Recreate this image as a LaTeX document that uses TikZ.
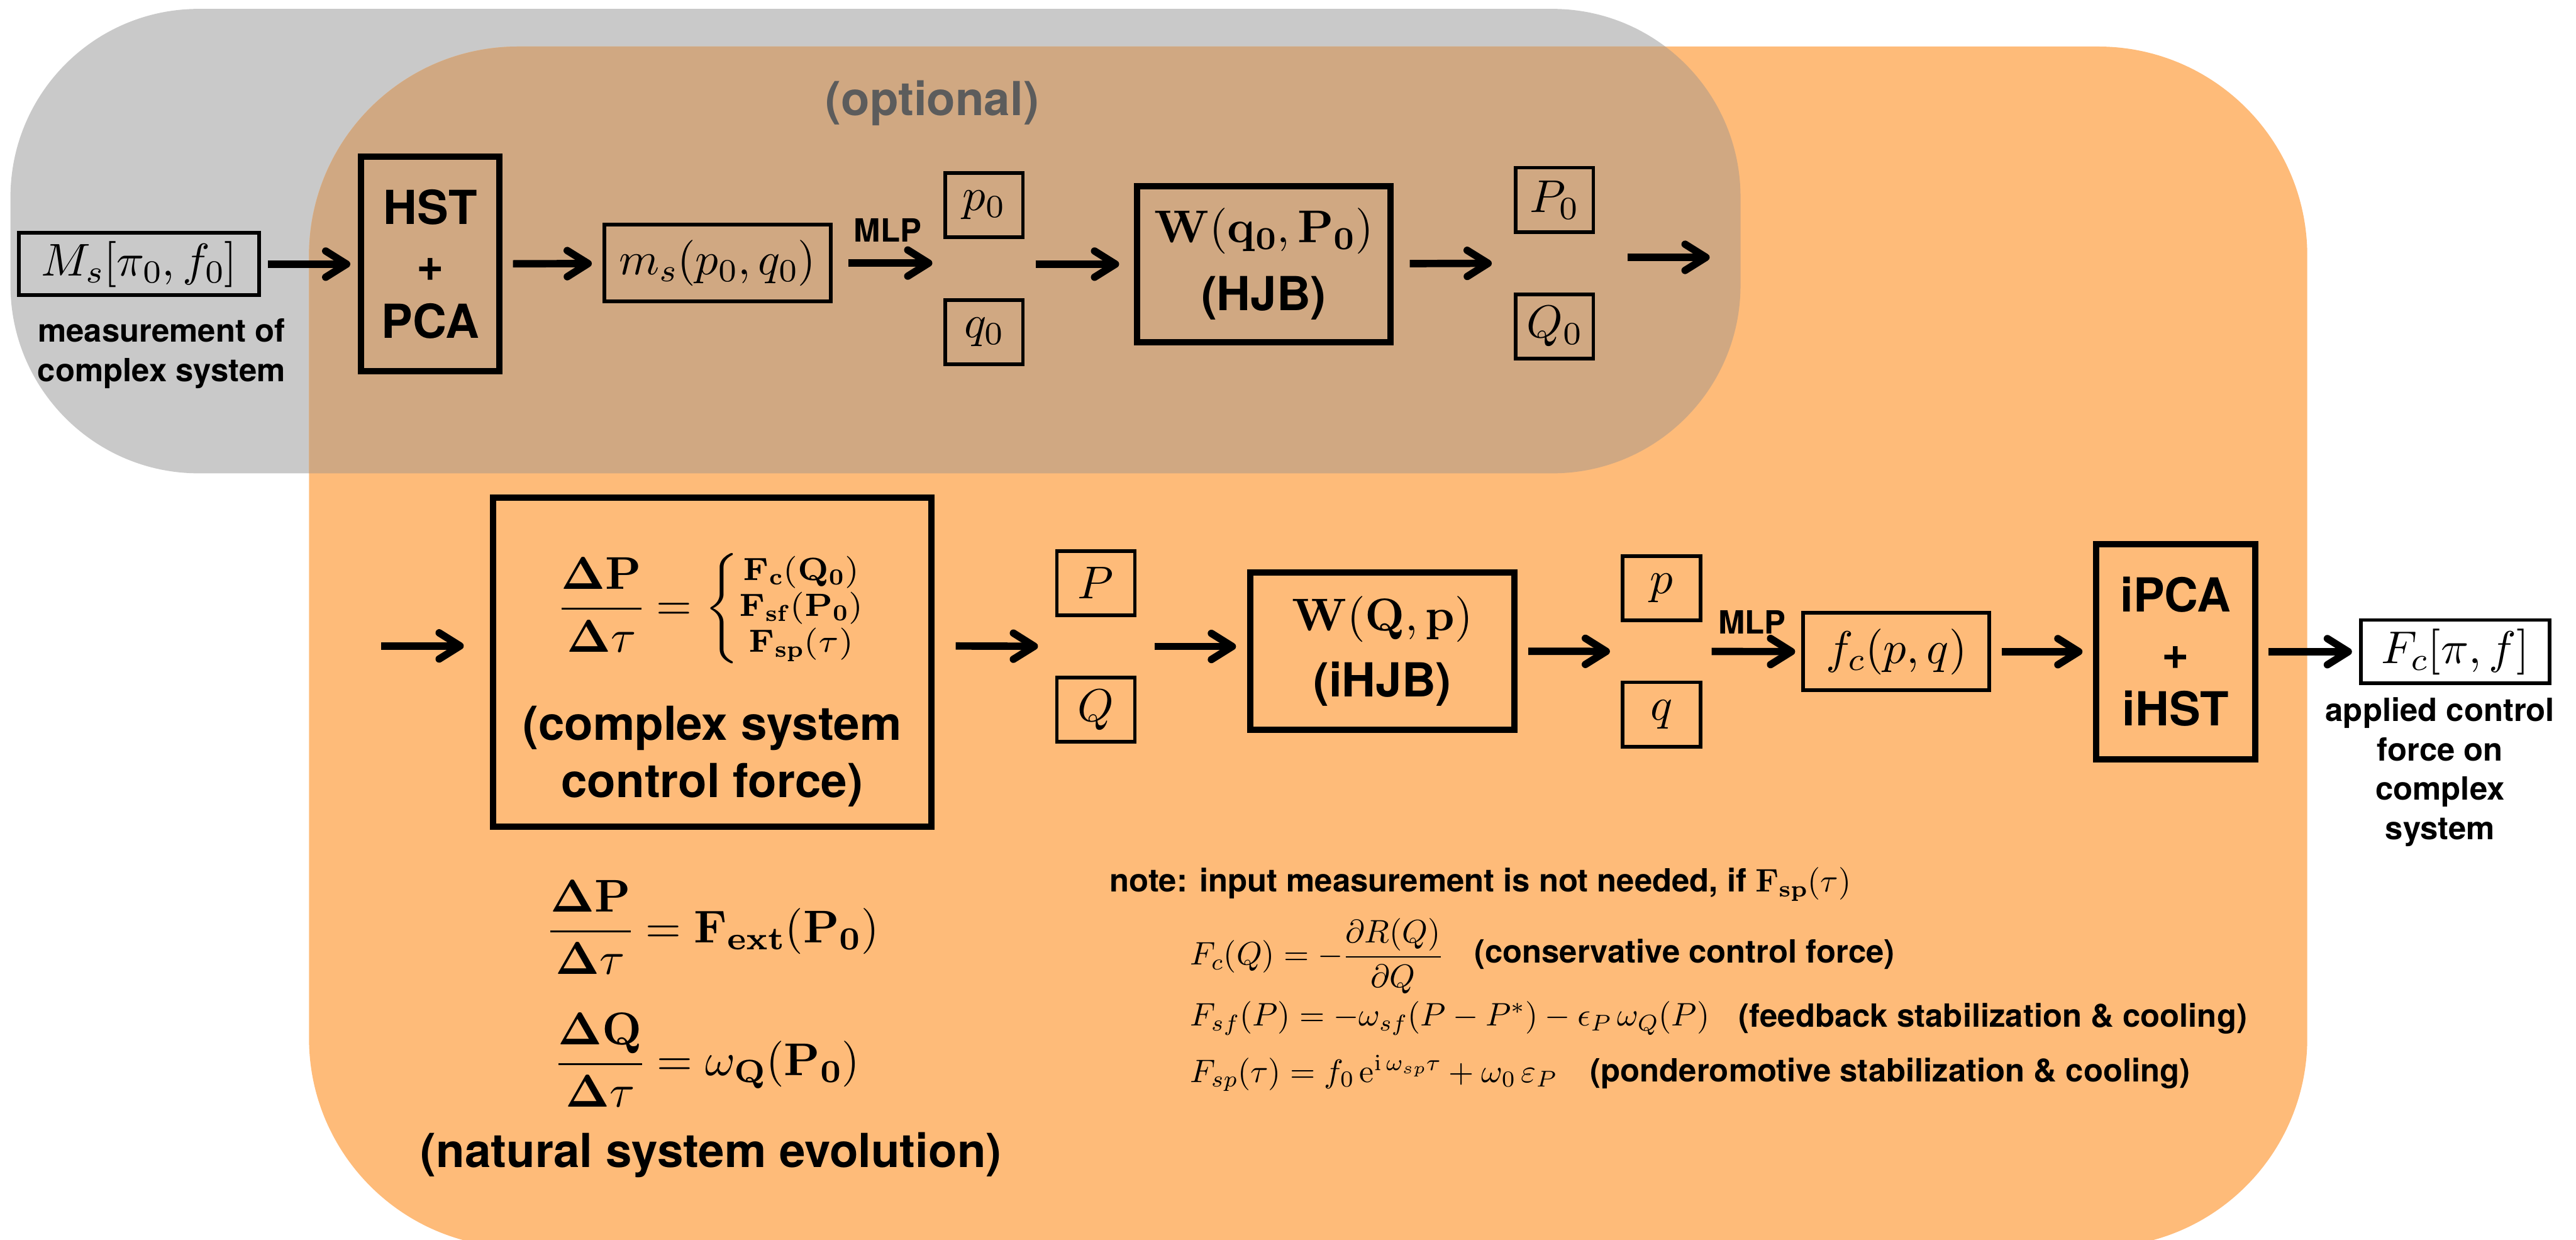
\documentclass[tikz,border=0pt]{standalone}
\usepackage{amsmath,amssymb}
\usepackage[no-math]{fontspec}
\setsansfont{TeX Gyre Heros}
\usepackage{xcolor}
\usetikzlibrary{arrows.meta,positioning,fit}

% math in the look of a scaled-up 10pt formula
\DeclareFontShape{OT1}{cmr}{m}{n}{<-12>cmr5 <12-17.6>cmr7 <17.6->cmr10}{}
\DeclareFontShape{OT1}{cmr}{bx}{n}{<-12>cmbx5 <12-17.6>cmbx7 <17.6->cmbx10}{}
\DeclareFontShape{OML}{cmm}{m}{it}{<-12>cmmi5 <12-17.6>cmmi7 <17.6->cmmi10}{}
\DeclareFontShape{OMS}{cmsy}{m}{n}{<-12>cmsy5 <12-17.6>cmsy7 <17.6->cmsy10}{}
\DeclareFontShape{OMX}{cmex}{m}{n}{<->cmex10}{}

\definecolor{orangebg}{RGB}{254,187,121}
\definecolor{graybg}{RGB}{201,201,201}
\definecolor{overlapbg}{RGB}{208,168,130}
\definecolor{optgray}{RGB}{92,92,92}

\newcommand{\boxmath}{\fontsize{25}{30}\selectfont}
\newcommand{\boxsans}{\sffamily\bfseries\fontsize{25.5}{31}\selectfont}
\newcommand{\capsans}{\sffamily\bfseries\fontsize{17.4}{21.5}\selectfont}
\newcommand{\notemath}{\fontsize{17.7}{21}\selectfont}

\begin{document}
\begin{tikzpicture}[
    varbox/.style={rectangle, draw, line width=2pt, minimum width=1.49cm, minimum height=1.23cm, inner sep=0pt, font=\boxmath},
    databox/.style={rectangle, draw, line width=2pt, inner sep=0pt, font=\boxmath},
    opbox/.style={rectangle, draw, line width=3.4pt, inner sep=0pt, align=center, font=\boxsans},
    caption/.style={inner sep=0pt, align=center, font=\capsans},
    arrow/.style={-{Straight Barb[length=4mm, width=5mm, round]}, line width=4pt, shorten <=2mm, shorten >=2mm}
]
\useasboundingbox (0,0) rectangle (49.27,-23.70);
\clip (0,0) rectangle (49.27,-23.70);

% background regions
\fill[graybg, rounded corners=3.6cm] (0.20,-0.17) rectangle (33.29,-9.05);
\fill[orangebg, rounded corners=4cm] (5.91,-0.89) rectangle (44.13,-23.85);
\begin{scope}
  \clip[rounded corners=4cm] (5.91,-0.89) rectangle (44.13,-23.85);
  \fill[overlapbg, rounded corners=3.6cm] (0.20,-0.17) rectangle (33.29,-9.05);
\end{scope}
\node[font=\boxsans, text=optgray] (optional) at (17.83,-1.97) {(optional)};

% forward chain (measurement -> HJB)
\node[databox, minimum width=4.59cm, minimum height=1.19cm] (meas) at (2.66,-5.05) {$M_s[\pi_0,f_0]$};
\node[caption] (measlabel) at (3.09,-6.76) {measurement of\\complex system};
\node[opbox, minimum width=2.64cm, minimum height=4.10cm] (hst) at (8.23,-5.05) {HST\\+\\PCA};
\node[databox, minimum width=4.33cm, minimum height=1.47cm] (msig) at (13.72,-5.03) {$m_s(p_0,q_0)$};
\node[caption] (mlptop) at (16.98,-4.40) {MLP};
\node[varbox] (p0) at (18.82,-3.92) {$p_0$};
\node[varbox, below=1.13cm of p0] (q0) {$q_0$};
\node[fit=(p0)(q0), inner sep=0pt] (pq0) {};
\node[opbox, minimum width=4.85cm, minimum height=2.99cm] (hjb) at (24.17,-5.05) {{\boxmath$\mathbf{W}(\mathbf{q_0},\mathbf{P_0})$}\\[6pt](HJB)};
\node[varbox] (P0) at (29.73,-3.82) {$P_0$};
\node[varbox, below=1.12cm of P0] (Q0) {$Q_0$};
\node[fit=(P0)(Q0), inner sep=0pt] (PQ0) {};
\coordinate (topout) at (32.70,-4.92);

\draw[arrow, shorten <=1.3mm, shorten >=1.5mm] (meas) -- (hst);
\draw[arrow] (hst) -- (msig);
\draw[arrow, shorten <=3.1mm] (msig) -- (msig -| pq0.west);
\draw[arrow, shorten >=2.8mm] (hjb -| pq0.east) -- (hjb);
\draw[arrow, shorten <=3.1mm, shorten >=4.1mm] (hjb) -- (PQ0);
\draw[arrow, shorten <=6.1mm, shorten >=0pt] (PQ0.east |- topout) -- (topout);

% backward chain (control force -> applied force)
\coordinate (botin) at (7.29,-12.35);
\node[opbox, minimum width=8.38cm, text height=5.73cm, text depth=0.56cm] (ctrl) at (13.62,-12.66) {{\boxmath$\displaystyle\frac{\mathbf{\Delta P}}{\mathbf{\Delta}\tau}=\left\{\substack{\mathbf{F_c}(\mathbf{Q_0})\\ \mathbf{F_{sf}}(\mathbf{P_0})\\ \mathbf{F_{sp}}(\tau)}\right.$}\\[22pt](complex system\\control force)};
\node[varbox] (P) at (20.96,-11.15) {$P$};
\node[varbox, below=1.12cm of P] (Q) {$Q$};
\node[fit=(P)(Q), inner sep=0pt] (PQ) {};
\node[opbox, minimum width=5.06cm, minimum height=3.00cm] (ihjb) at (26.44,-12.45) {{\boxmath$\mathbf{W}(\mathbf{Q},\mathbf{p})$}\\[5pt](iHJB)};
\node[varbox] (p) at (31.78,-11.25) {$p$};
\node[varbox, below=1.11cm of p] (q) {$q$};
\node[fit=(p)(q), inner sep=0pt] (pq) {};
\node[caption] (mlpbot) at (33.51,-11.90) {MLP};
\node[databox, minimum width=3.56cm, minimum height=1.48cm] (fsig) at (36.27,-12.46) {$f_c(p,q)$};
\node[opbox, minimum width=3.04cm, minimum height=4.11cm] (ipca) at (41.61,-12.46) {iPCA\\+\\iHST};
\node[databox, minimum width=3.60cm, minimum height=1.21cm] (force) at (46.96,-12.46) {$F_c[\pi,f]$};
\node[caption] (forcelabel) at (46.67,-14.76) {applied control\\force on\\complex\\system};

\draw[arrow, shorten <=0pt, shorten >=5mm] (botin) -- (botin -| ctrl.west);
\draw[arrow, shorten <=4.1mm, shorten >=3.2mm] (botin -| ctrl.east) -- (PQ);
\draw[arrow, shorten <=3.4mm, shorten >=2.1mm] (PQ) -- (PQ -| ihjb.west);
\draw[arrow] (ihjb) -- (pq);
\draw[arrow, shorten <=1.7mm, shorten >=1.2mm] (pq) -- (fsig);
\draw[arrow] (fsig) -- (ipca);
\draw[arrow, shorten >=1.4mm] (ipca) -- (force);

% natural evolution
\node[font=\boxmath] (natP) at (13.65,-17.73) {$\displaystyle\frac{\mathbf{\Delta P}}{\mathbf{\Delta}\tau}=\mathbf{F_{ext}}(\mathbf{P_0})$};
\node[font=\boxmath] (natQ) at (13.54,-20.27) {$\displaystyle\frac{\mathbf{\Delta Q}}{\mathbf{\Delta}\tau}=\omega_{\mathbf{Q}}(\mathbf{P_0})$};
\node[font=\boxsans] (natlabel) at (13.60,-22.08) {(natural system evolution)};

% note and force definitions
\node[caption, anchor=west] (note) at (21.22,-16.91) {note: input measurement is not needed, if {\notemath$\mathbf{F_{sp}}(\tau)$}};
\node[anchor=west, inner sep=0pt, font=\notemath] (eqc) at (22.76,-18.28) {$F_c(Q)=-\dfrac{\partial R(Q)}{\partial Q}$};
\node[caption, anchor=west] (eqclabel) at (28.19,-18.24) {(conservative control force)};
\node[anchor=west, inner sep=0pt, font=\notemath] (eqsf) at (22.76,-19.47) {$F_{sf}(P)=-\omega_{sf}(P-P^*)-\epsilon_P\,\omega_Q(P)$};
\node[caption, anchor=west] (eqsflabel) at (33.25,-19.47) {(feedback stabilization \& cooling)};
\node[anchor=west, inner sep=0pt, font=\notemath] (eqsp) at (22.76,-20.52) {$F_{sp}(\tau)=f_0\,\mathrm{e}^{\mathrm{i}\,\omega_{sp}\tau}+\omega_0\,\varepsilon_P$};
\node[caption, anchor=west] (eqsplabel) at (30.41,-20.52) {(ponderomotive stabilization \& cooling)};
\end{tikzpicture}
\end{document}
